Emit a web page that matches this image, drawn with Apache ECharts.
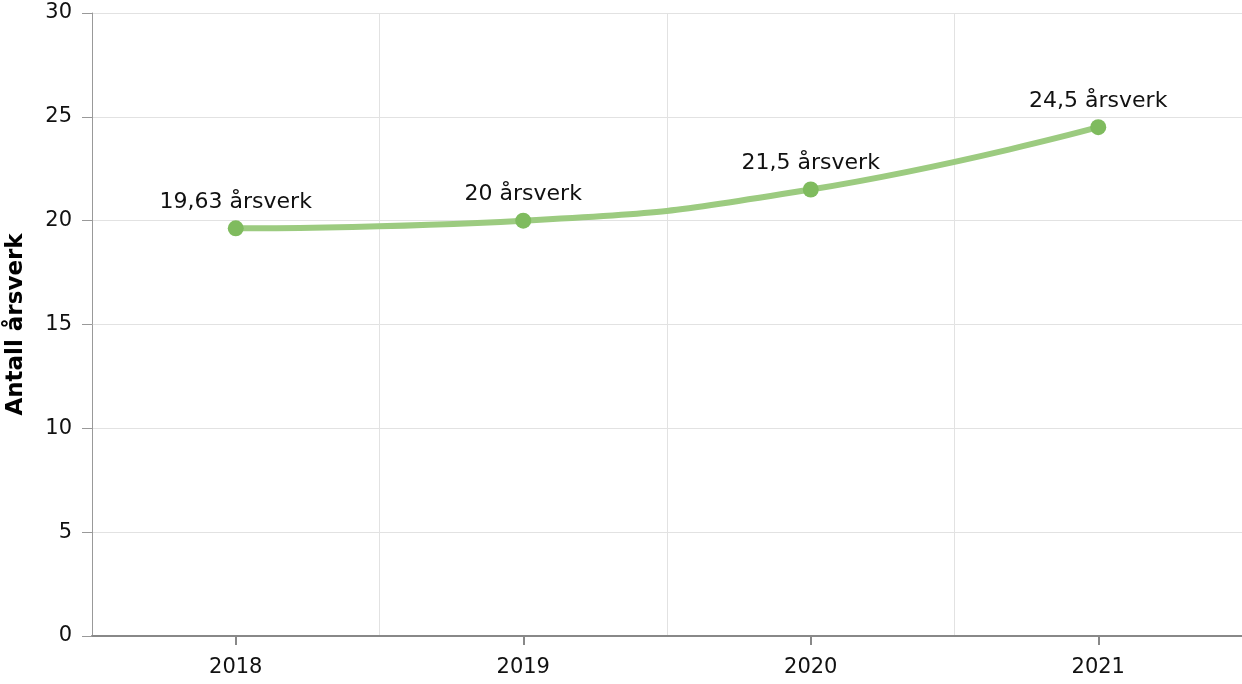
<!DOCTYPE html>
<html>
<head>
<meta charset="utf-8">
<script src="https://cdn.jsdelivr.net/npm/echarts@6/dist/echarts.min.js"></script>
<style>
html, body { margin: 0; padding: 0; background: #fff; }
#chart { width: 1242px; height: 684px; }
</style>
</head>
<body>
<div id="chart"></div>
<script>
// data
var years = ['2018', '2019', '2020', '2021'];
var aarsverk = [19.63, 20, 21.5, 24.5];
var yTicks = [0, 5, 10, 15, 20, 25, 30];

var FONT = 'DejaVu Sans';

function initChart() {
    var myChart = echarts.init(document.getElementById('chart'));

    var option = {
        animation: false,
        textStyle: { fontFamily: FONT },
        grid: { left: 92, right: 0, top: 13, bottom: 48, outerBoundsMode: 'none', containLabel: false },
        xAxis: {
            type: 'category',
            data: years,
            boundaryGap: true,
            axisLine: { lineStyle: { color: '#888', width: 2 } },
            axisTick: { show: true, alignWithLabel: true, length: 9, lineStyle: { color: '#888', width: 2 } },
            axisLabel: { color: '#111', fontSize: 21, fontFamily: FONT, margin: 21 },
            splitLine: { show: true, lineStyle: { color: '#e2e2e2', width: 1 } }
        },
        yAxis: {
            type: 'value',
            min: yTicks[0],
            max: yTicks[yTicks.length - 1],
            interval: 5,
            name: 'Antall årsverk',
            nameLocation: 'middle',
            nameGap: 64,
            nameTextStyle: { fontSize: 23, fontWeight: 'bold', color: '#000', fontFamily: FONT },
            axisLine: { show: true, lineStyle: { color: '#999', width: 1 } },
            axisTick: { show: true, length: 10, lineStyle: { color: '#999' } },
            axisLabel: { color: '#111', fontSize: 21, fontFamily: FONT, margin: 20 },
            splitLine: { lineStyle: { color: '#e2e2e2', width: 1 } }
        },
        series: [{
            type: 'line',
            data: aarsverk,
            smooth: 0.5,
            symbol: 'circle',
            symbolSize: 16,
            lineStyle: { color: '#9ccb80', width: 6 },
            itemStyle: { color: '#7fbb5e' },
            label: {
                show: true,
                position: 'top',
                distance: 7,
                fontSize: 22,
                color: '#111',
                fontFamily: FONT,
                formatter: function (p) {
                    return String(p.value).replace('.', ',') + ' årsverk';
                }
            }
        }]
    };

    myChart.setOption(option);
}

initChart();
</script>
</body>
</html>
